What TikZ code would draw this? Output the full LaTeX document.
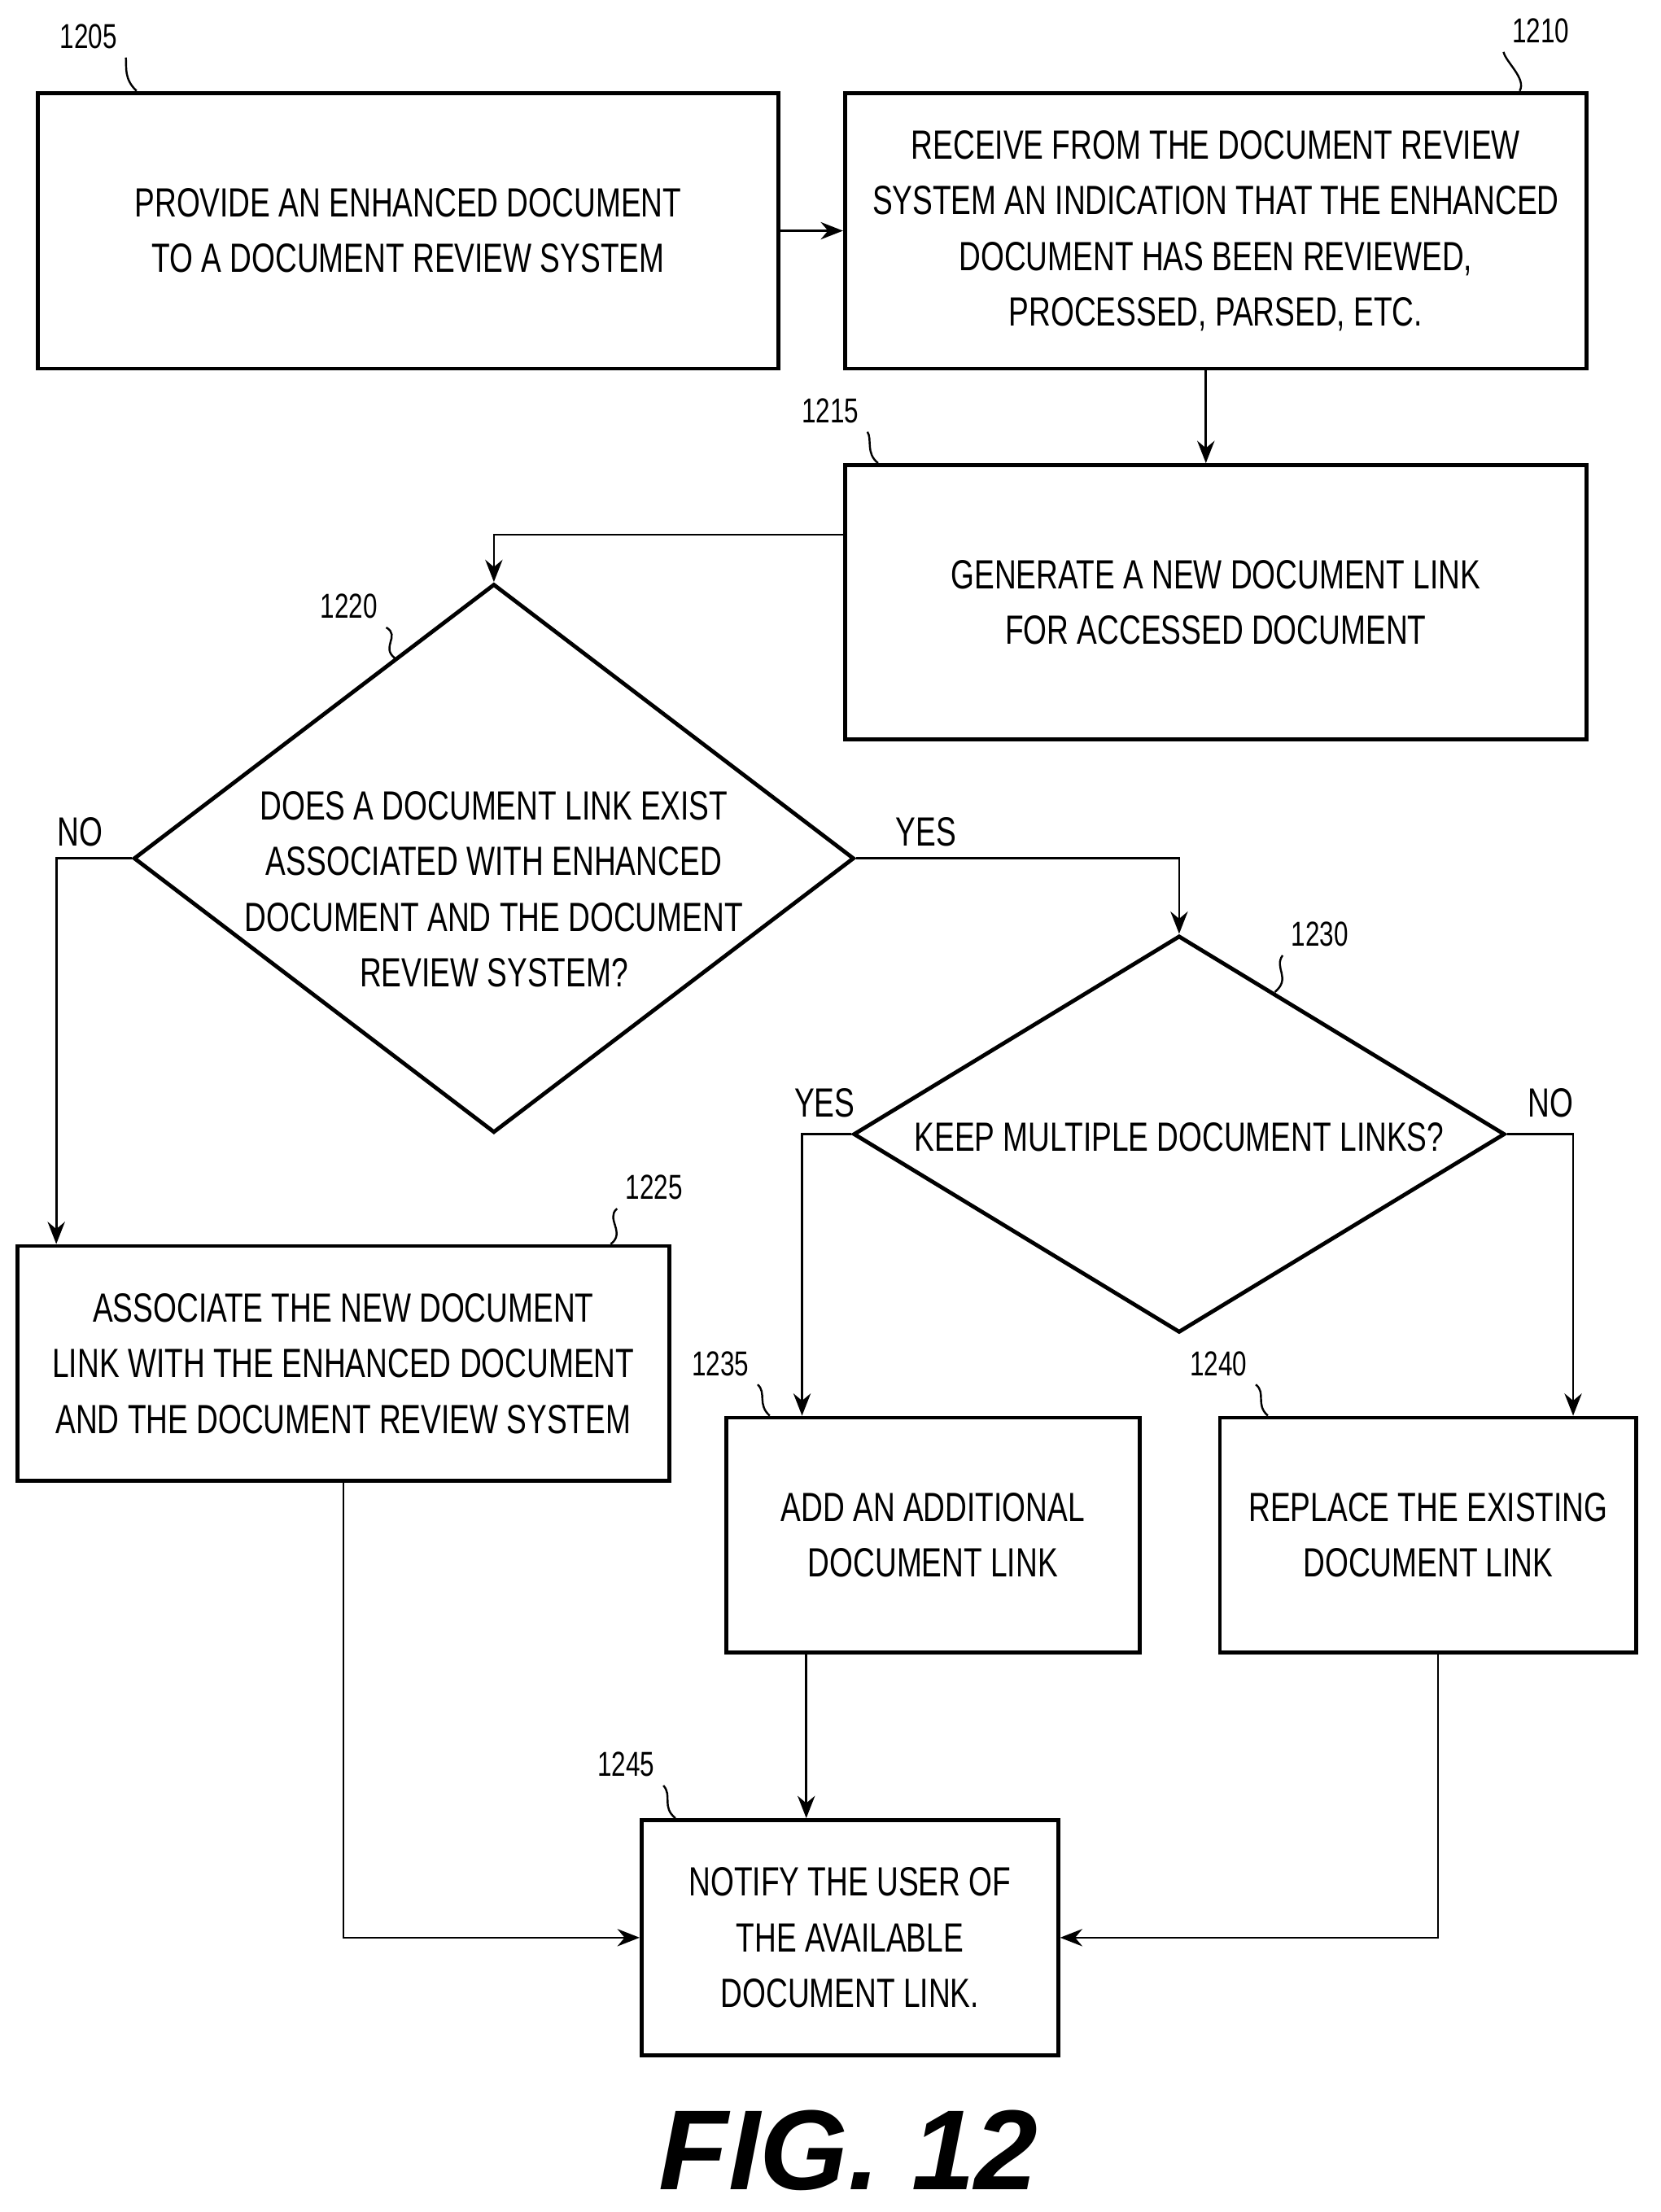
\documentclass[tikz,border=0pt]{standalone}
\usepackage{fontspec}
\setmainfont{Liberation Sans}[FakeStretch=0.74]
\newfontfamily\figfont{Liberation Sans}
\usetikzlibrary{shapes.geometric,arrows.meta}
\begin{document}
\begin{tikzpicture}[x=0.02cm,y=-0.02cm,
  box/.style={draw, line width=1.6pt, inner sep=0pt},
  txt/.style={align=center, font=\fontsize{16.5}{22.5}\selectfont},
  dia/.style={draw, diamond, line width=1.6pt, inner sep=0pt},
  flow/.style={line width=0.9pt, -{Stealth[length=9pt,width=7pt]}},
  refnum/.style={font=\fontsize{14}{16}\selectfont},
  lead/.style={line width=0.8pt}]
\useasboundingbox (0,0) rectangle (1180,1572);
% boxes
\node[box, minimum width=526*0.02cm, minimum height=196*0.02cm] (b1205) at (290,164) {};
\node[txt] at (b1205) {PROVIDE AN ENHANCED DOCUMENT\\TO A DOCUMENT REVIEW SYSTEM};
\node[box, minimum width=527*0.02cm, minimum height=196*0.02cm] (b1210) at (864,164) {};
\node[txt] at (b1210) {RECEIVE FROM THE DOCUMENT REVIEW\\SYSTEM AN INDICATION THAT THE ENHANCED\\DOCUMENT HAS BEEN REVIEWED,\\PROCESSED, PARSED, ETC.};
\node[box, minimum width=527*0.02cm, minimum height=195*0.02cm] (b1215) at (864,428) {};
\node[txt] at (b1215) {GENERATE A NEW DOCUMENT LINK\\FOR ACCESSED DOCUMENT};
\node[dia, minimum width=512*0.02cm, minimum height=390*0.02cm] (d1220) at (351,610) {};
\node[txt] at (351,632) {DOES A DOCUMENT LINK EXIST\\ASSOCIATED WITH ENHANCED\\DOCUMENT AND THE DOCUMENT\\REVIEW SYSTEM?};
\node[dia, minimum width=463*0.02cm, minimum height=282*0.02cm] (d1230) at (838,806) {};
\node[txt] at (838,808) {KEEP MULTIPLE DOCUMENT LINKS?};
\node[box, minimum width=463*0.02cm, minimum height=167*0.02cm] (b1225) at (244,969) {};
\node[txt] at (b1225) {ASSOCIATE THE NEW DOCUMENT\\LINK WITH THE ENHANCED DOCUMENT\\AND THE DOCUMENT REVIEW SYSTEM};
\node[box, minimum width=294*0.02cm, minimum height=167*0.02cm] (b1235) at (663,1091) {};
\node[txt] at (b1235) {ADD AN ADDITIONAL\\DOCUMENT LINK};
\node[box, minimum width=296*0.02cm, minimum height=167*0.02cm] (b1240) at (1015,1091) {};
\node[txt] at (b1240) {REPLACE THE EXISTING\\DOCUMENT LINK};
\node[box, minimum width=296*0.02cm, minimum height=167*0.02cm] (b1245) at (604,1377) {};
\node[txt] at (b1245) {NOTIFY THE USER OF\\THE AVAILABLE\\DOCUMENT LINK.};
% connectors
\draw[flow] (b1205.east) -- (b1210.west);
\draw[flow] (b1210.south -| 857,0) -- (b1215.north -| 857,0);
\draw[flow] (b1215.west |- 0,380) -| (d1220.north);
\draw[flow] (d1220.west) -| (b1225.north -| 40,0);
\draw[flow] (d1220.east) -| (d1230.north);
\draw[flow] (d1230.west) -| (b1235.north -| 570,0);
\draw[flow] (d1230.east) -| (b1240.north -| 1118,0);
\draw[flow] (b1225.south) |- (b1245.west);
\draw[flow] (b1235.south -| 573,0) -- (b1245.north -| 573,0);
\draw[flow] (b1240.south -| 1022,0) |- (b1245.east);
\node[txt] (lno1) at (57,591) {NO};
\node[txt] (lyes1) at (658,591) {YES};
\node[txt] (lyes2) at (586,784) {YES};
\node[txt] (lno2) at (1102,784) {NO};
% reference numbers
\node[refnum] (n1205) at (63,26) {1205};
\draw[lead] (n1205.south east) .. controls (90,48) and (88,56) .. (b1205.north west -| 97,0);
\node[refnum] (n1210) at (1095,22) {1210};
\draw[lead] (n1210.south west) .. controls (1070,44) and (1085,56) .. (b1210.north east -| 1080,0);
\node[refnum] (n1215) at (590,292) {1215};
\draw[lead] (n1215.south east) .. controls (620,312) and (615,322) .. (b1215.north west -| 624,0);
\node[refnum] (n1220) at (248,431) {1220};
\draw[lead] (n1220.south east) .. controls (285,452) and (270,460) .. (281,468);
\node[refnum] (n1230) at (938,664) {1230};
\draw[lead] (n1230.south west) .. controls (905,688) and (918,695) .. (906,705);
\node[refnum] (n1225) at (465,844) {1225};
\draw[lead] (n1225.south west) .. controls (430,866) and (445,876) .. (b1225.north east -| 434,0);
\node[refnum] (n1235) at (512,969) {1235};
\draw[lead] (n1235.south east) .. controls (545,990) and (538,998) .. (b1235.north west -| 547,0);
\node[refnum] (n1240) at (866,969) {1240};
\draw[lead] (n1240.south east) .. controls (900,990) and (892,998) .. (b1240.north west -| 901,0);
\node[refnum] (n1245) at (445,1254) {1245};
\draw[lead] (n1245.south east) .. controls (478,1276) and (470,1284) .. (b1245.north west -| 480,0);
\node[font=\figfont\fontsize{46}{46}\selectfont\bfseries\itshape] (fig) at (603,1528) {FIG. 12};
\end{tikzpicture}
\end{document}
